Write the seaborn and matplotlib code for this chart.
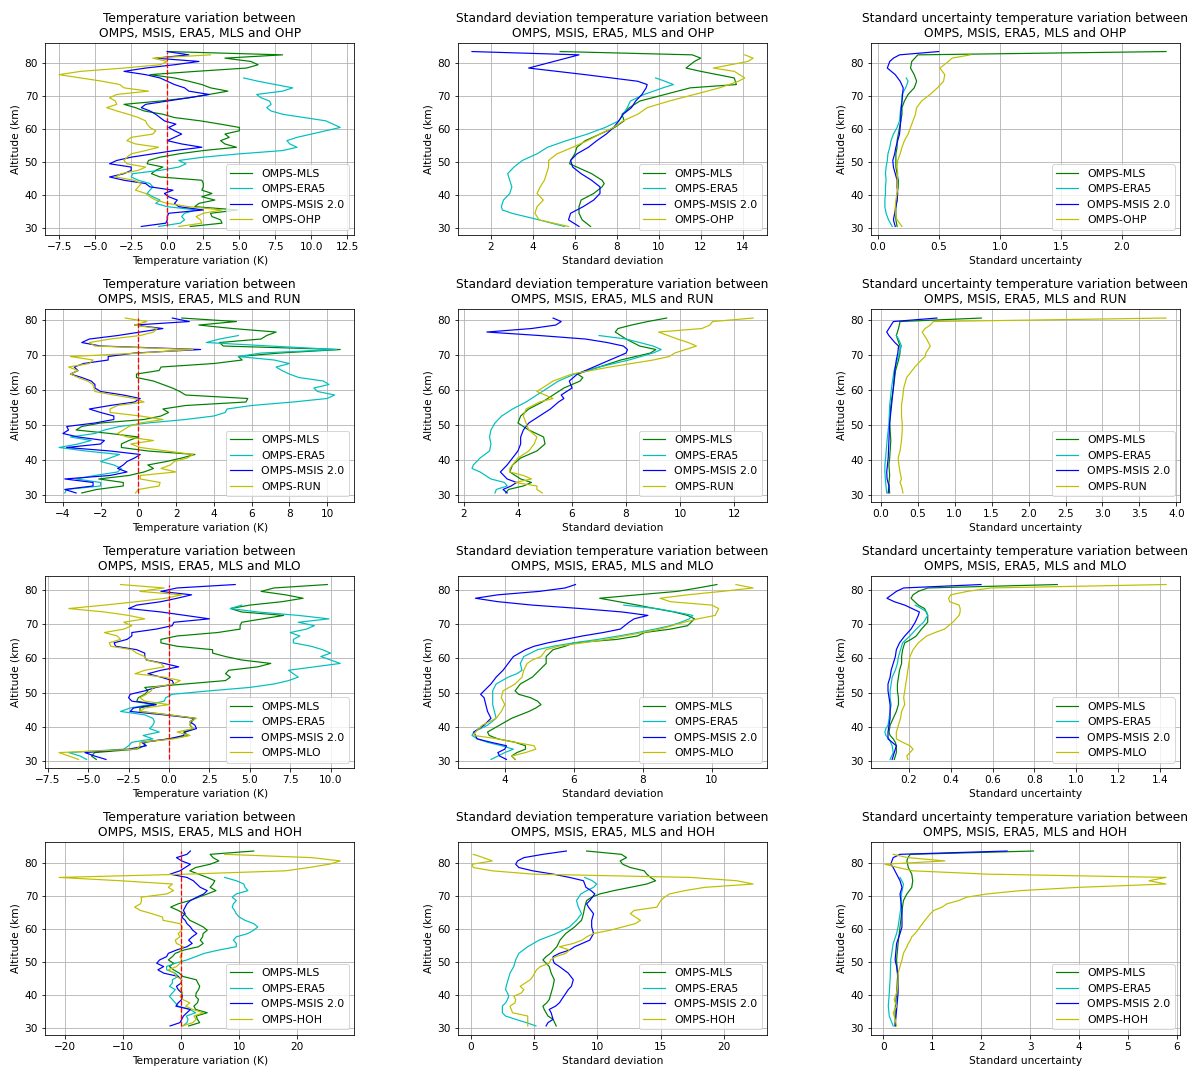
import numpy as np
import matplotlib
matplotlib.use("Agg")
import matplotlib.pyplot as plt
from matplotlib.ticker import MultipleLocator
import seaborn as sns

# ---------------- Temperature variation (1 km grid starting at 30.5 km) ----------------
OHP_TV_MLS = [1.6,3.8,3.7,3.1,3.0,4.9,1.9,2.2,3.3,2.4,3.1,2.4,2.5,2.5,2.4,-0.5,-1.1,-0.8,-0.3,-1.4,-1.3,-0.5,0.8,2.5,4.8,4.0,3.7,4.3,4.0,5.0,5.0,3.7,2.3,0.5,-0.3,-1.6,-2.2,-3.0,-0.5,1.5,2.9,4.2,3.0,2.4,1.5,0.5,-1.2,2.0,5.5,6.3,5.8,4.0,8.0,0.0]
OHP_TV_ERA5 = [-0.6,0.9,1.2,1.0,1.2,2.0,0.0,-0.8,-0.5,-1.0,-1.4,-1.2,-1.0,-1.2,-2.0,-2.5,-2.4,-0.5,0.8,1.3,0.8,2.5,5.0,8.0,9.0,8.5,8.3,9.0,10.0,11.0,12.0,11.5,11.0,9.5,8.0,7.2,6.9,7.2,7.1,6.5,6.2,8.0,8.7,7.5,6.3,5.3]
OHP_TV_MSIS = [-1.8,-0.1,0.0,0.0,0.1,2.5,0.8,0.5,0.7,0.1,-0.2,0.4,-1.2,-1.5,-3.0,-4.0,-3.0,-2.5,-2.5,-4.0,-3.5,-2.5,-1.0,0.5,2.4,1.0,0.0,0.5,1.0,0.5,0.1,0.6,-0.2,-0.5,-0.8,-1.2,-1.8,-1.5,0.0,1.5,2.9,1.5,1.2,0.5,0.0,-0.5,-1.5,-3.0,-1.5,0.5,2.2,-0.8,1.5,0.0]
OHP_TV_STN = [0.8,2.4,2.3,2.0,2.5,3.8,1.5,0.0,-0.8,-1.2,-1.5,-2.2,-2.0,-1.8,-2.3,-3.6,-3.2,-2.0,-1.5,-2.8,-3.0,-2.8,-2.5,-1.5,-0.6,-2.2,-2.8,-2.5,-1.0,-0.8,-1.2,-1.4,-1.5,-2.0,-2.7,-3.5,-4.2,-3.5,-3.6,-4.0,-3.5,-1.3,-3.0,-3.3,-4.5,-6.0,-7.5,-6.0,-3.0,-0.5,0.0,-1.0,3.0]

RUN_TV_MLS = [-3.0,-2.2,-0.8,-0.8,-2.1,-0.5,0.3,0.8,0.5,1.5,2.3,3.0,0.5,-0.9,-0.9,-0.5,0.0,-1.5,-3.3,-3.0,-2.0,0.3,1.2,1.6,1.3,2.5,5.7,5.8,2.5,2.2,1.8,1.3,0.8,-0.1,-0.1,1.1,1.2,4.0,5.5,5.3,7.5,10.7,4.5,4.3,6.5,6.8,7.3,5.0,3.2,5.2,2.3]
RUN_TV_ERA5 = [-3.9,-3.8,-2.0,-2.0,-3.3,-2.3,-1.1,-0.9,-1.3,-2.0,-1.5,-1.0,-2.8,-4.2,-3.2,-2.5,-3.6,-2.3,-1.8,-1.0,0.5,2.5,4.0,4.6,4.7,6.0,8.2,10.0,10.4,9.5,9.3,10.1,9.8,8.5,8.0,7.6,7.3,8.0,7.2,5.3,6.5,10.5,7.0,3.6,4.3,5.3]
RUN_TV_MSIS = [-3.3,-3.9,-2.4,-2.4,-3.9,-1.5,-0.6,-1.1,-0.8,-0.6,-0.2,0.1,-1.5,-3.8,-2.0,-1.8,-3.2,-4.0,-3.7,-3.8,-2.3,-1.3,-1.3,-2.0,-2.6,-1.5,-0.2,0.1,-0.8,-2.0,-2.3,-2.3,-2.5,-3.0,-3.6,-3.2,-3.4,-2.9,-1.6,-1.6,-0.2,3.3,-2.0,-3.0,-2.6,-1.1,0.1,1.3,-0.2,2.7,1.8]
RUN_TV_STN = [-0.15,0.0,1.1,1.15,0.1,0.1,2.0,1.2,1.7,1.9,2.6,2.9,1.5,0.1,-0.4,0.8,-0.6,-1.1,-0.8,-0.5,0.1,1.3,0.1,-1.5,-1.5,-1.1,0.3,-0.2,-1.3,-2.3,-2.35,-2.4,-2.7,-3.2,-3.6,-3.2,-3.7,-2.6,-2.4,-3.6,0.1,2.9,-2.3,-2.6,-1.5,0.1,0.8,1.0,-0.2,0.45,-0.7]

MLO_TV_MLS = [-4.5,-4.8,-4.6,-2.0,-1.5,-1.5,0.0,1.2,0.9,1.5,1.3,1.4,1.6,0.0,-1.8,-1.8,-0.8,-2.0,-1.9,-1.5,-1.3,-1.5,1.0,3.5,3.8,3.5,3.7,5.5,6.3,4.5,3.5,2.7,2.7,0.5,-0.5,-0.5,0.5,3.0,4.4,4.4,4.5,5.8,7.1,4.5,3.8,5.0,7.0,8.3,7.2,5.7,6.5,9.8]
MLO_TV_ERA5 = [-5.1,-5.5,-6.2,-2.8,-2.5,-2.3,-1.0,-1.6,-0.6,-1.2,-1.0,-0.9,-1.0,-1.5,-3.0,-2.4,-1.2,-0.3,-0.2,0.2,2.5,5.0,6.5,7.4,8.0,7.7,7.4,9.0,10.6,10.0,9.4,10.0,9.5,8.8,7.7,7.7,8.1,7.5,8.5,9.0,8.0,9.9,8.0,5.5,3.8,4.5]
MLO_TV_MSIS = [-3.9,-4.6,-5.2,-2.5,-1.4,-1.7,0.0,0.9,1.0,1.7,1.6,1.3,1.6,-0.3,-2.4,-2.2,-0.8,-2.3,-2.5,-2.4,-1.5,-0.8,0.3,0.2,-0.5,-1.3,-0.5,0.6,-0.3,-1.4,-1.5,-1.5,-2.0,-3.3,-3.4,-2.6,-2.3,-2.3,-0.8,0.2,0.3,2.5,1.0,-0.5,-2.5,-2.0,-0.5,0.5,1.4,-0.5,0.5,4.1]
MLO_TV_STN = [-5.6,-6.2,-6.8,-2.0,-1.8,-1.8,0.3,1.3,0.5,1.5,1.3,1.3,1.7,0.0,-1.8,-1.5,0.0,-1.5,-1.8,-1.4,-1.1,-1.0,0.3,0.7,-0.3,-2.1,-1.5,-0.3,-0.5,-1.4,-1.5,-2.0,-2.3,-3.6,-3.7,-3.0,-3.2,-4.0,-2.8,-2.3,-2.8,-1.5,-2.5,-4.0,-6.2,-4.0,-2.0,-0.2,0.8,-1.8,-0.3,-3.0]

HOH_TV_MLS = [1.3,3.2,2.8,2.6,4.5,2.5,2.2,2.8,3.0,2.5,2.6,3.0,3.2,2.9,2.6,0.3,-0.3,-1.3,-2.0,-1.3,-2.2,-1.5,-1.0,0.5,3.0,3.8,3.3,3.7,3.8,4.5,3.8,2.7,1.5,1.0,0.5,-0.5,-1.8,-0.5,1.5,3.0,4.5,6.0,5.0,5.5,5.8,4.5,3.0,1.5,2.5,5.0,6.5,5.5,5.0,12.5]
HOH_TV_ERA5 = [0.3,1.0,1.2,0.9,2.5,1.5,-0.5,-1.0,-1.5,-2.0,-1.5,-1.0,-2.0,-1.5,-1.5,-0.5,-1.0,-2.5,-2.5,-1.0,1.0,2.5,4.0,6.5,9.5,9.5,9.0,9.5,11.5,12.5,13.2,12.5,11.0,10.0,9.5,9.2,8.8,9.0,9.5,8.8,9.5,11.5,11.0,10.8,9.5,7.5]
HOH_TV_MSIS = [-1.9,-0.2,0.1,0.4,1.0,1.6,-0.9,-0.5,0.1,0.2,0.1,-0.5,-0.8,0.0,0.1,-0.5,-3.0,-4.0,-3.0,-4.2,-3.7,-2.5,-2.2,-0.8,1.0,1.9,1.3,1.9,2.7,2.0,1.6,1.0,0.7,0.1,0.7,0.4,0.7,1.0,1.6,2.7,3.9,4.5,3.3,2.7,2.1,1.0,-1.9,-0.2,0.7,1.6,0.1,-0.8,1.0,1.6]
HOH_TV_STN = [0.2,2.0,2.6,2.2,3.8,2.0,0.8,1.5,0.3,-0.2,0.3,-0.2,0.2,0.0,0.1,-0.8,-1.2,-2.2,-0.8,-0.2,0.1,-0.2,0.2,-0.2,0.4,-0.8,-1.0,-0.2,-0.5,0.1,0.2,-0.2,-3.1,-3.2,-5.0,-7.0,-8.0,-7.0,-6.8,-6.9,-2.5,-1.3,-2.2,-1.5,-10.5,-21.0,1.0,18.0,22.0,25.5,27.4,22.5,7.5]

# ---------------- Standard deviation (altitude, value) ----------------
OHP_SD_MLS_ALT = [30.5,32.5,34.5,36.5,38.5,40.5,42.5,43.5,44.5,46.5,48.5,49.5,50.5,52.5,54.5,56.5,58.5,60.5,62.5,64.5,66.5,68.5,70.5,72.5,73.5,75.5,77.5,78.5,80.5,81.5,82.5,83.5]
OHP_SD_MLS = [6.75,6.35,6.2,6.2,6.3,6.9,7.3,7.4,7.3,6.8,6.1,5.75,5.8,6.0,6.1,6.5,7.2,7.9,8.35,8.25,8.6,9.1,10.3,11.5,13.7,13.6,12.0,11.3,11.7,12.0,11.6,5.3]
OHP_SD_ERA5_ALT = [30.5,32.5,34.5,35.5,36.5,38.5,40.5,42.5,44.5,46.5,48.5,50.5,52.5,54.5,56.5,58.5,60.5,62.5,64.5,66.5,68.5,70.5,72.5,73.5,74.5,75.5]
OHP_SD_ERA5 = [5.5,4.3,3.0,2.55,2.5,2.6,2.9,3.0,2.9,2.8,3.1,3.5,4.2,4.7,5.6,6.6,7.45,8.1,8.3,8.5,8.65,9.3,10.2,10.7,10.3,9.85]
OHP_SD_MSIS_ALT = [30.5,32.5,34.5,36.5,38.5,40.5,42.5,44.5,46.5,48.5,50.5,52.5,54.5,56.5,58.5,60.5,62.5,64.5,66.5,68.5,70.5,72.5,73.5,74.5,76.5,78.5,80.5,82.5,83.5]
OHP_SD_MSIS = [6.2,5.7,5.8,6.4,6.9,7.2,7.2,6.8,6.3,5.9,5.8,6.1,6.65,7.05,7.5,7.85,8.1,8.3,8.7,8.9,9.2,9.4,9.45,9.0,6.5,3.8,5.0,6.2,1.1]
OHP_SD_STN_ALT = [30.5,32.5,34.5,36.5,38.5,40.5,42.5,44.5,46.5,48.5,50.5,52.5,54.5,56.5,58.5,60.5,62.5,64.5,66.5,68.5,70.5,72.5,74.5,75.5,77.5,78.5,80.5,81.5,82.5]
OHP_SD_STN = [5.7,4.3,4.1,4.2,4.5,4.2,4.35,4.55,4.65,4.75,4.75,5.15,5.9,6.6,7.2,7.85,8.3,9.0,9.45,10.5,11.7,12.9,13.8,14.1,13.6,12.6,14.25,14.5,14.1]

RUN_SD_MLS_ALT = [30.5,31.5,32.5,33.5,34.5,36.5,38.5,40.5,42.5,44.5,46.5,48.5,50.5,52.5,54.5,56.5,58.5,60.5,62.5,63.5,64.5,66.5,68.5,70.5,71.5,72.5,74.5,76.5,77.5,78.5,79.5,80.5]
RUN_SD_MLS = [3.55,3.65,4.2,4.5,4.1,3.7,3.8,4.1,4.7,5.0,4.95,4.4,4.0,4.1,4.4,4.9,5.3,5.7,6.3,6.4,6.2,7.0,7.8,8.9,9.1,8.5,8.0,7.6,7.7,8.2,8.8,9.5]
RUN_SD_ERA5_ALT = [30.5,31.5,32.5,33.5,34.5,36.5,37.5,38.5,40.5,42.5,44.5,46.5,48.5,50.5,52.5,54.5,56.5,58.5,60.5,62.5,64.5,66.5,68.5,70.5,71.5,72.5,74.5,75.5]
RUN_SD_ERA5 = [3.15,3.2,3.6,3.5,3.0,2.6,2.3,2.35,2.6,2.95,3.0,2.95,3.0,3.15,3.4,3.8,4.3,4.7,5.1,5.5,6.1,7.0,8.1,9.0,9.3,9.0,8.0,7.0]
RUN_SD_MSIS_ALT = [30.5,31.5,32.5,33.5,34.5,36.5,38.5,40.5,42.5,44.5,46.5,48.5,50.5,52.5,54.5,56.5,57.5,58.5,60.5,62.5,64.5,66.5,68.5,70.5,71.5,72.5,73.5,74.5,75.5,76.5,77.5,78.5,79.5,80.5]
RUN_SD_MSIS = [3.6,3.45,3.75,3.95,3.6,3.35,3.6,3.8,4.0,4.1,4.1,4.2,4.4,4.8,5.2,5.5,5.7,5.6,6.0,5.9,6.2,6.8,7.4,8.0,8.05,7.9,7.3,6.5,4.8,2.85,4.5,5.4,5.6,5.3]
RUN_SD_STN_ALT = [30.5,31.5,32.5,33.5,34.5,35.5,36.5,37.5,38.5,40.5,42.5,44.5,46.5,48.5,50.5,52.5,54.5,56.5,57.5,58.5,59.5,60.5,62.5,64.5,66.5,68.5,69.5,70.5,72.5,73.5,74.5,76.5,77.5,78.5,79.5,80.5]
RUN_SD_STN = [4.9,4.7,4.7,3.9,4.5,4.2,3.7,3.7,3.8,4.0,4.4,4.6,4.7,4.4,4.3,4.2,4.3,4.8,5.3,5.0,4.7,4.9,5.3,6.0,7.4,9.0,9.6,9.8,10.6,10.3,9.9,9.2,10.8,11.1,11.2,12.7]

MLO_SD_MLS_ALT = [30.5,31.5,32.5,33.5,34.5,35.5,36.5,37.5,38.5,40.5,42.5,44.5,45.5,46.5,47.5,48.5,49.5,50.5,52.5,54.5,56.5,58.5,60.5,62.5,63.5,64.5,65.5,66.5,67.5,68.5,69.5,71.5,72.5,73.5,74.5,75.5,76.5,77.5,78.5,79.5,80.5,81.5]
MLO_SD_MLS = [4.3,4.2,4.35,4.6,4.6,4.3,3.8,3.55,3.5,3.85,4.2,4.7,4.9,5.05,4.95,4.75,4.4,4.3,4.45,4.8,5.0,5.2,5.2,5.4,5.75,6.0,7.25,7.85,8.05,8.8,9.3,9.5,9.3,8.9,8.35,7.85,7.3,6.75,7.85,9.0,9.6,10.15]
MLO_SD_ERA5_ALT = [30.5,31.5,32.5,33.5,34.5,35.5,36.5,37.5,38.5,40.5,42.5,44.5,46.5,48.5,50.5,52.5,54.5,55.5,56.5,58.5,60.5,62.5,63.5,64.5,65.5,66.5,67.5,68.5,69.5,70.5,71.5,72.5,73.5,74.5,75.5]
MLO_SD_ERA5 = [3.6,3.8,4.0,4.25,3.9,3.5,3.2,3.05,3.1,3.5,3.75,3.7,3.65,3.65,3.65,3.75,4.1,4.35,4.5,4.45,4.55,4.95,5.4,6.0,6.7,7.3,7.85,8.35,8.8,9.1,9.35,9.45,8.95,8.4,7.45]
MLO_SD_MSIS_ALT = [30.5,31.5,32.5,33.5,34.5,35.5,36.5,37.5,38.5,40.5,42.5,44.5,46.5,48.5,49.5,50.5,52.5,54.5,56.5,58.5,60.5,62.5,63.5,64.5,65.5,66.5,67.5,68.5,70.5,71.5,72.5,73.5,74.5,75.5,76.5,77.5,78.5,79.5,80.5,81.5]
MLO_SD_MSIS = [4.05,3.85,3.8,4.0,4.05,3.6,3.2,3.15,3.1,3.4,3.6,3.5,3.45,3.4,3.3,3.4,3.6,3.75,3.95,4.1,4.25,4.6,4.85,5.25,5.75,6.25,6.85,7.35,7.6,7.75,8.15,7.4,6.2,4.8,3.8,3.15,3.8,5.0,5.75,6.05]
MLO_SD_STN_ALT = [30.5,31.5,32.5,33.5,34.5,35.5,36.5,37.5,38.5,40.5,42.5,44.5,46.5,48.5,50.5,52.5,54.5,56.5,58.5,59.5,60.5,62.5,63.5,64.5,65.5,66.5,67.5,68.5,70.5,71.5,72.5,74.5,75.5,76.5,77.5,78.5,79.5,80.5,81.5]
MLO_SD_STN = [4.3,4.2,4.6,4.9,4.85,4.3,3.8,3.1,3.15,3.35,3.75,3.9,4.0,3.9,3.95,4.3,4.5,4.55,4.65,4.8,5.05,5.2,5.55,6.25,6.95,7.45,8.0,8.5,9.2,9.6,10.1,10.2,10.0,8.8,8.5,9.3,10.3,11.2,10.7]

HOH_SD_MLS_ALT = [30.5,32.5,33.5,35.5,36.5,37.5,38.5,40.5,42.5,44.5,46.5,48.5,49.5,50.5,51.5,52.5,54.5,56.5,58.5,60.5,62.5,64.5,66.5,68.5,69.5,70.5,71.5,72.5,73.5,74.5,75.5,76.5,77.5,78.5,79.5,80.5,81.5,82.5,83.5]
HOH_SD_MLS = [6.75,6.5,6.1,5.8,5.7,6.0,6.2,6.35,6.5,6.6,6.35,6.2,5.95,5.7,5.95,6.3,6.8,7.05,7.5,8.2,8.75,8.9,9.0,9.15,9.55,10.2,11.3,12.6,13.9,14.6,14.2,13.9,13.7,12.6,12.0,11.8,12.3,11.9,9.15]
HOH_SD_ERA5_ALT = [30.5,31.5,32.5,33.5,34.5,36.5,37.5,38.5,39.5,40.5,41.5,42.5,44.5,46.5,48.5,50.5,52.5,54.5,56.5,58.5,60.5,62.5,64.5,66.5,68.5,70.5,71.5,72.5,73.5,74.5,75.5]
HOH_SD_ERA5 = [5.15,4.4,3.55,2.75,2.5,2.5,2.75,2.9,3.0,2.9,2.75,2.8,2.95,3.1,3.4,3.55,3.8,4.5,5.4,6.75,7.8,8.35,8.75,8.5,8.35,8.7,9.15,9.7,9.95,9.6,9.0]
HOH_SD_MSIS_ALT = [30.5,31.5,32.5,34.5,35.5,36.5,37.5,39.5,41.5,42.5,44.5,46.5,48.5,49.5,50.5,51.5,52.5,53.5,54.5,56.5,58.5,60.5,62.5,64.5,66.5,67.5,68.5,70.5,71.5,72.5,73.5,74.5,75.5,76.5,77.5,78.5,79.5,80.5,81.5,82.5,83.5]
HOH_SD_MSIS = [5.95,6.1,6.5,6.35,6.2,6.7,7.0,7.35,7.7,7.95,8.1,7.7,7.0,6.6,6.5,6.5,7.0,7.8,8.2,9.4,9.7,9.55,9.55,9.7,9.3,9.15,9.4,9.8,9.5,9.1,9.0,8.9,7.8,6.5,4.9,3.8,3.55,3.7,4.2,5.7,7.55]
HOH_SD_STN_ALT = [30.5,32.5,33.5,34.5,36.5,37.5,38.5,39.5,40.5,41.5,42.5,43.5,44.5,45.5,47.5,48.5,49.5,50.5,51.5,52.5,53.5,54.5,55.5,56.5,57.5,58.5,59.5,60.5,61.5,62.5,63.5,64.5,65.5,66.5,68.5,69.5,70.5,71.5,72.5,73.5,74.5,75.5,76.5,77.5,78.5,79.5,80.5,81.5,82.5]
HOH_SD_STN = [4.5,4.5,4.5,3.3,3.1,3.5,3.55,3.4,4.0,4.2,3.9,4.3,4.7,4.9,5.2,5.5,6.2,6.3,6.7,7.5,7.8,7.0,8.1,8.8,9.15,9.7,11.0,12.0,13.0,13.4,13.0,12.6,12.9,14.7,15.0,15.3,15.7,16.9,18.5,22.3,21.0,17.4,4.9,1.7,0.2,0.1,1.7,1.0,0.2]

# ---------------- Standard uncertainty (altitude, value) ----------------
OHP_SU_MLS_ALT = [30.5,32.5,34.5,36.5,38.5,40.5,42.5,44.5,46.5,48.5,50.5,52.5,54.5,56.5,58.5,60.5,62.5,64.5,66.5,68.5,70.5,72.5,74.5,76.5,78.5,80.5,82.5,83.5]
OHP_SU_MLS = [0.16,0.15,0.15,0.15,0.16,0.16,0.17,0.17,0.16,0.15,0.15,0.15,0.16,0.16,0.17,0.18,0.19,0.2,0.2,0.22,0.25,0.3,0.32,0.3,0.27,0.28,0.33,2.36]
OHP_SU_ERA5_ALT = [30.5,32.5,34.5,36.5,38.5,40.5,42.5,44.5,46.5,48.5,50.5,52.5,54.5,56.5,58.5,60.5,62.5,64.5,66.5,68.5,70.5,72.5,74.5,75.5]
OHP_SU_ERA5 = [0.12,0.09,0.07,0.06,0.06,0.065,0.065,0.07,0.065,0.07,0.08,0.085,0.1,0.11,0.13,0.16,0.18,0.185,0.19,0.2,0.2,0.23,0.25,0.235]
OHP_SU_MSIS_ALT = [30.5,32.5,34.5,36.5,38.5,40.5,42.5,44.5,46.5,48.5,50.5,52.5,54.5,56.5,58.5,60.5,62.5,64.5,66.5,68.5,70.5,72.5,74.5,76.5,78.5,80.5,81.5,82.5,83.5]
OHP_SU_MSIS = [0.145,0.13,0.14,0.15,0.16,0.165,0.16,0.16,0.145,0.13,0.125,0.14,0.15,0.165,0.18,0.185,0.19,0.19,0.195,0.2,0.205,0.21,0.185,0.145,0.08,0.1,0.13,0.18,0.5]
OHP_SU_STN_ALT = [30.5,32.5,34.5,36.5,38.5,40.5,42.5,44.5,46.5,48.5,50.5,52.5,54.5,56.5,58.5,60.5,62.5,64.5,66.5,68.5,70.5,72.5,74.5,76.5,78.5,80.5,81.5,82.5]
OHP_SU_STN = [0.2,0.16,0.145,0.145,0.15,0.16,0.165,0.16,0.165,0.16,0.165,0.185,0.2,0.22,0.25,0.27,0.29,0.31,0.32,0.36,0.43,0.49,0.54,0.55,0.51,0.58,0.61,0.76]

RUN_SU_MLS_ALT = [30.5,33.5,35.5,38.5,40.5,45.5,50.5,55.5,60.5,65.5,68.5,70.5,72.5,75.5,77.5,79.5,80.5]
RUN_SU_MLS = [0.12,0.11,0.12,0.11,0.12,0.135,0.12,0.135,0.17,0.2,0.24,0.26,0.26,0.21,0.24,0.26,1.36]
RUN_SU_ERA5_ALT = [30.5,33.5,36.5,38.5,40.5,45.5,50.5,55.5,60.5,65.5,70.5,72.5,74.5,75.5]
RUN_SU_ERA5 = [0.08,0.065,0.055,0.055,0.065,0.085,0.11,0.12,0.145,0.18,0.25,0.28,0.24,0.21]
RUN_SU_MSIS_ALT = [30.5,32.5,34.5,36.5,38.5,40.5,45.5,50.5,55.5,60.5,65.5,68.5,70.5,72.5,73.5,75.5,76.5,78.5,79.5,80.5]
RUN_SU_MSIS = [0.1,0.11,0.085,0.08,0.09,0.1,0.11,0.12,0.145,0.17,0.19,0.21,0.23,0.24,0.19,0.11,0.08,0.14,0.17,0.76]
RUN_SU_STN_ALT = [30.5,32.5,33.5,34.5,36.5,38.5,40.5,42.5,45.5,48.5,50.5,52.5,55.5,58.5,60.5,63.5,66.5,68.5,69.5,70.5,72.5,74.5,76.5,77.5,78.5,79.5,80.5]
RUN_SU_STN = [0.3,0.28,0.26,0.28,0.26,0.245,0.235,0.26,0.28,0.29,0.29,0.28,0.28,0.3,0.31,0.35,0.46,0.55,0.6,0.61,0.67,0.62,0.56,0.6,0.67,0.71,3.86]

MLO_SU_MLS_ALT = [30.5,32.5,34.5,35.5,36.5,37.5,38.5,40.5,42.5,44.5,46.5,48.5,50.5,52.5,54.5,56.5,58.5,60.5,62.5,64.5,65.5,66.5,68.5,70.5,72.5,74.5,75.5,77.5,78.5,79.5,80.5,81.5]
MLO_SU_MLS = [0.13,0.14,0.14,0.135,0.125,0.11,0.105,0.11,0.125,0.14,0.15,0.15,0.145,0.145,0.15,0.155,0.165,0.165,0.17,0.18,0.21,0.235,0.26,0.29,0.29,0.275,0.245,0.21,0.22,0.245,0.29,0.91]
MLO_SU_ERA5_ALT = [30.5,32.5,34.5,36.5,37.5,38.5,39.5,40.5,42.5,44.5,46.5,48.5,50.5,52.5,54.5,56.5,58.5,60.5,62.5,64.5,66.5,68.5,70.5,72.5,73.5,74.5,75.5]
MLO_SU_ERA5 = [0.11,0.125,0.12,0.105,0.09,0.085,0.09,0.1,0.105,0.11,0.115,0.11,0.11,0.115,0.12,0.135,0.145,0.15,0.16,0.17,0.205,0.235,0.27,0.29,0.285,0.26,0.23]
MLO_SU_MSIS_ALT = [30.5,32.5,33.5,34.5,35.5,36.5,38.5,40.5,42.5,44.5,46.5,48.5,50.5,52.5,54.5,56.5,58.5,60.5,62.5,64.5,66.5,68.5,70.5,72.5,73.5,74.5,75.5,76.5,77.5,79.5,80.5,81.5]
MLO_SU_MSIS = [0.12,0.13,0.135,0.14,0.12,0.1,0.1,0.105,0.11,0.11,0.11,0.105,0.1,0.1,0.11,0.115,0.125,0.135,0.14,0.155,0.18,0.21,0.23,0.245,0.25,0.215,0.18,0.13,0.095,0.14,0.175,0.545]
MLO_SU_STN_ALT = [30.5,31.5,32.5,33.5,34.5,35.5,36.5,38.5,40.5,42.5,44.5,46.5,48.5,50.5,52.5,54.5,56.5,58.5,60.5,62.5,64.5,66.5,67.5,68.5,70.5,72.5,73.5,74.5,75.5,76.5,77.5,78.5,79.5,80.5,81.5]
MLO_SU_STN = [0.195,0.19,0.205,0.22,0.205,0.17,0.14,0.14,0.15,0.16,0.165,0.18,0.175,0.18,0.185,0.19,0.195,0.2,0.205,0.22,0.245,0.285,0.325,0.37,0.41,0.44,0.445,0.445,0.44,0.395,0.39,0.4,0.48,0.59,1.43]

HOH_SU_MLS_ALT = [30.5,35.5,40.5,45.5,50.5,55.5,60.5,65.5,68.5,70.5,72.5,74.5,76.5,78.5,80.5,81.5,82.5,83.5]
HOH_SU_MLS = [0.24,0.24,0.27,0.29,0.27,0.3,0.34,0.38,0.41,0.48,0.58,0.6,0.58,0.51,0.48,0.5,0.55,3.07]
HOH_SU_ERA5_ALT = [30.5,33.5,36.5,40.5,45.5,50.5,55.5,58.5,60.5,65.5,70.5,73.5,75.5]
HOH_SU_ERA5 = [0.2,0.12,0.1,0.12,0.14,0.15,0.2,0.27,0.3,0.35,0.37,0.41,0.34]
HOH_SU_MSIS_ALT = [30.5,35.5,40.5,45.5,48.5,50.5,55.5,58.5,60.5,65.5,70.5,72.5,74.5,76.5,78.5,79.5,81.5,82.5,83.5]
HOH_SU_MSIS = [0.24,0.27,0.3,0.3,0.27,0.24,0.27,0.34,0.38,0.38,0.34,0.38,0.34,0.27,0.2,0.15,0.2,0.34,2.53]
HOH_SU_STN_ALT = [30.5,32.5,34.5,36.5,38.5,40.5,42.5,44.5,46.5,48.5,50.5,52.5,54.5,55.5,56.5,57.5,58.5,60.5,62.5,64.5,65.5,66.5,67.5,68.5,69.5,70.5,71.5,72.5,73.5,74.5,75.5,76.5,77.5,78.5,79.5,80.5,81.5,82.5]
HOH_SU_STN = [0.27,0.24,0.2,0.27,0.22,0.27,0.29,0.3,0.3,0.34,0.38,0.41,0.48,0.51,0.55,0.58,0.65,0.75,0.85,0.96,1.03,1.2,1.3,1.54,1.7,2.12,2.8,4.0,5.78,5.43,5.78,2.12,0.6,0.3,0.03,1.26,0.5,0.2]

STATIONS = ["OHP", "RUN", "MLO", "HOH"]
SERIES_LABELS = ["OMPS-MLS", "OMPS-ERA5", "OMPS-MSIS 2.0"]
COLORS = ["g", "c", "b", "y"]
TOP_ALT = {"OHP": 83.5, "RUN": 80.5, "MLO": 81.5, "HOH": 83.5}
# x tick spacing per row (columns: temperature variation, std deviation, std uncertainty)
TICK_STEP = {"OHP": (2.5, 2, 0.5), "RUN": (2, 2, 0.5), "MLO": (2.5, 2, 0.2), "HOH": (10, 5, 1)}

TV = {
    "OHP": [OHP_TV_MLS, OHP_TV_ERA5, OHP_TV_MSIS, OHP_TV_STN],
    "RUN": [RUN_TV_MLS, RUN_TV_ERA5, RUN_TV_MSIS, RUN_TV_STN],
    "MLO": [MLO_TV_MLS, MLO_TV_ERA5, MLO_TV_MSIS, MLO_TV_STN],
    "HOH": [HOH_TV_MLS, HOH_TV_ERA5, HOH_TV_MSIS, HOH_TV_STN],
}
SD = {
    "OHP": [(OHP_SD_MLS_ALT, OHP_SD_MLS), (OHP_SD_ERA5_ALT, OHP_SD_ERA5), (OHP_SD_MSIS_ALT, OHP_SD_MSIS), (OHP_SD_STN_ALT, OHP_SD_STN)],
    "RUN": [(RUN_SD_MLS_ALT, RUN_SD_MLS), (RUN_SD_ERA5_ALT, RUN_SD_ERA5), (RUN_SD_MSIS_ALT, RUN_SD_MSIS), (RUN_SD_STN_ALT, RUN_SD_STN)],
    "MLO": [(MLO_SD_MLS_ALT, MLO_SD_MLS), (MLO_SD_ERA5_ALT, MLO_SD_ERA5), (MLO_SD_MSIS_ALT, MLO_SD_MSIS), (MLO_SD_STN_ALT, MLO_SD_STN)],
    "HOH": [(HOH_SD_MLS_ALT, HOH_SD_MLS), (HOH_SD_ERA5_ALT, HOH_SD_ERA5), (HOH_SD_MSIS_ALT, HOH_SD_MSIS), (HOH_SD_STN_ALT, HOH_SD_STN)],
}
SU = {
    "OHP": [(OHP_SU_MLS_ALT, OHP_SU_MLS), (OHP_SU_ERA5_ALT, OHP_SU_ERA5), (OHP_SU_MSIS_ALT, OHP_SU_MSIS), (OHP_SU_STN_ALT, OHP_SU_STN)],
    "RUN": [(RUN_SU_MLS_ALT, RUN_SU_MLS), (RUN_SU_ERA5_ALT, RUN_SU_ERA5), (RUN_SU_MSIS_ALT, RUN_SU_MSIS), (RUN_SU_STN_ALT, RUN_SU_STN)],
    "MLO": [(MLO_SU_MLS_ALT, MLO_SU_MLS), (MLO_SU_ERA5_ALT, MLO_SU_ERA5), (MLO_SU_MSIS_ALT, MLO_SU_MSIS), (MLO_SU_STN_ALT, MLO_SU_STN)],
    "HOH": [(HOH_SU_MLS_ALT, HOH_SU_MLS), (HOH_SU_ERA5_ALT, HOH_SU_ERA5), (HOH_SU_MSIS_ALT, HOH_SU_MSIS), (HOH_SU_STN_ALT, HOH_SU_STN)],
}

TITLES = ["Temperature variation between", "Standard deviation temperature variation between",
          "Standard uncertainty temperature variation between"]
XLABELS = ["Temperature variation (K)", "Standard deviation", "Standard uncertainty"]

plt.rcParams["font.family"] = ["DejaVu Sans"]
fig, axes = plt.subplots(4, 3, figsize=(1192 / 72, 1070 / 72), dpi=72)
fig.subplots_adjust(left=0.0378, right=0.990, top=0.960, bottom=0.033, wspace=0.335, hspace=0.385)

LW = 1.2
for r, stn in enumerate(STATIONS):
    labels = SERIES_LABELS + ["OMPS-" + stn]
    # column 1: temperature variation on 1 km grid
    ax = axes[r, 0]
    for vals, col, lab in zip(TV[stn], COLORS, labels):
        alt = 30.5 + np.arange(len(vals))
        sns.lineplot(x=np.array(vals), y=alt, ax=ax, color=col, label=lab,
                     sort=False, estimator=None, linewidth=LW)
    zero_alt = np.array([30.5, TOP_ALT[stn]])
    sns.lineplot(x=np.zeros(2), y=zero_alt, ax=ax, color="r", linestyle="--",
                 sort=False, estimator=None, linewidth=1.3)
    # columns 2 and 3
    for c, data in ((1, SD[stn]), (2, SU[stn])):
        ax = axes[r, c]
        for (alt, vals), col, lab in zip(data, COLORS, labels):
            sns.lineplot(x=np.array(vals), y=np.array(alt), ax=ax, color=col, label=lab,
                         sort=False, estimator=None, linewidth=LW)
    for c in range(3):
        ax = axes[r, c]
        ax.set_title(TITLES[c] + "\nOMPS, MSIS, ERA5, MLS and " + stn, fontsize=12.2)
        ax.set_xlabel(XLABELS[c], fontsize=10.5)
        ax.set_ylabel("Altitude (km)", fontsize=10.5)
        ax.xaxis.set_major_locator(MultipleLocator(TICK_STEP[stn][c]))
        ax.yaxis.set_major_locator(MultipleLocator(10))
        ax.grid(True)
        ax.tick_params(labelsize=10.5)
        handles, labs = ax.get_legend_handles_labels()
        keep = [(h, l) for h, l in zip(handles, labs) if l in labels]
        ax.legend([h for h, _ in keep], [l for _, l in keep], loc="lower right", fontsize=11)

fig.savefig("out.png", dpi=72)
